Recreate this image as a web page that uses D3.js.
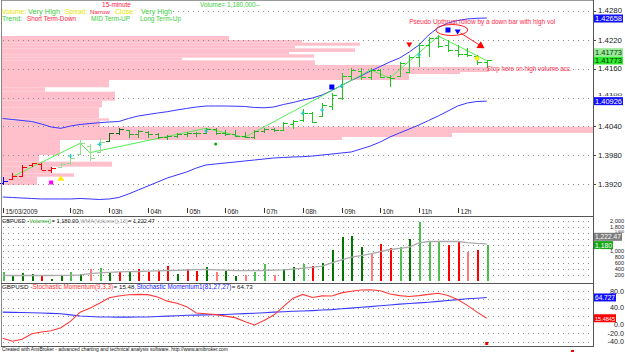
<!DOCTYPE html>
<html><head><meta charset="utf-8">
<script src="https://cdn.jsdelivr.net/npm/d3@7"></script>
<style>body{margin:0;background:#fff}svg{display:block;font-family:"Liberation Sans Narrow","Liberation Sans",Arial,sans-serif}</style>
</head><body><svg id="c" width="625" height="352"></svg>
<script>
// ---------- DATA ----------
const timeLabels = ["15/03/2009","02h","03h","04h","05h","06h","07h","08h","09h","10h","11h","12h"];
const timeTickIdx = [0,7,11,15,19,23,27,31,35,39,43,47];
const barOpen  = [1.39221,1.39304,1.39367,1.39596,1.39627,1.39492,1.39554,1.39638,1.39825,1.40000,1.39867,1.40096,1.40263,1.40325,1.40242,1.40289,1.40242,1.40180,1.40200,1.40242,1.40263,1.40263,1.40346,1.40263,1.40242,1.40200,1.40169,1.40304,1.40346,1.40325,1.40450,1.40533,1.40679,1.40617,1.40825,1.40992,1.41450,1.41554,1.41429,1.41575,1.41429,1.41450,1.41533,1.41846,1.42096,1.42242,1.42096,1.41992,1.41908,1.41867,1.41742];
const barHigh  = [1.39352,1.39435,1.39596,1.39644,1.39644,1.39548,1.39644,1.39783,1.40117,1.40033,1.40158,1.40269,1.40360,1.40325,1.40325,1.40300,1.40269,1.40221,1.40263,1.40289,1.40289,1.40360,1.40367,1.40325,1.40325,1.40289,1.40325,1.40373,1.40367,1.40498,1.40533,1.40756,1.40706,1.40894,1.41090,1.41506,1.41610,1.41610,1.41610,1.41590,1.41471,1.41748,1.41888,1.42131,1.42269,1.42304,1.42200,1.42096,1.42027,1.41888,1.41783];
const barLow   = [1.39179,1.39283,1.39352,1.39561,1.39492,1.39435,1.39527,1.39596,1.39804,1.39686,1.39846,1.40081,1.40221,1.40158,1.40158,1.40158,1.40131,1.40117,1.40158,1.40185,1.40185,1.40256,1.40221,1.40200,1.40180,1.40152,1.40131,1.40256,1.40290,1.40325,1.40340,1.40498,1.40465,1.40590,1.40742,1.40950,1.41367,1.41367,1.41367,1.41402,1.41227,1.41435,1.41506,1.41631,1.41852,1.42027,1.41956,1.41852,1.41852,1.41679,1.41610];
const barClose = [1.39263,1.39367,1.39554,1.39631,1.39492,1.39533,1.39617,1.39742,1.40054,1.39742,1.40075,1.40263,1.40346,1.40242,1.40304,1.40242,1.40180,1.40200,1.40242,1.40263,1.40263,1.40346,1.40263,1.40242,1.40200,1.40169,1.40304,1.40346,1.40325,1.40471,1.40513,1.40679,1.40492,1.40846,1.41054,1.41450,1.41575,1.41429,1.41575,1.41429,1.41408,1.41721,1.41846,1.42096,1.42242,1.42075,1.41992,1.41908,1.41888,1.41742,1.41773];
const barTone  = "brrrrrllllldd" + "gggggggggggggggg" + "GGGGGGGGGGGGGGGGGGGGGG";
const upperBand = [1.40565,1.40544,1.40523,1.40502,1.40450,1.40388,1.40360,1.40408,1.40440,1.40460,1.40477,1.40492,1.40502,1.40565,1.40617,1.40648,1.40679,1.40706,1.40742,1.40773,1.40804,1.40825,1.40825,1.40825,1.40821,1.40815,1.40794,1.40788,1.40804,1.40856,1.40898,1.40950,1.40992,1.41054,1.41148,1.41252,1.41356,1.41450,1.41554,1.41648,1.41742,1.41825,1.41950,1.42096,1.42304,1.42460,1.42554,1.42606,1.42638,1.42652,1.42658];
const lowerBand = [1.38929,1.38919,1.38908,1.38898,1.38888,1.38888,1.38888,1.38888,1.38898,1.38888,1.38877,1.38888,1.38919,1.38992,1.39075,1.39158,1.39242,1.39325,1.39388,1.39450,1.39533,1.39596,1.39617,1.39638,1.39658,1.39679,1.39700,1.39721,1.39742,1.39752,1.39763,1.39769,1.39783,1.39804,1.39825,1.39846,1.39867,1.39929,1.39992,1.40075,1.40179,1.40263,1.40346,1.40429,1.40523,1.40617,1.40721,1.40825,1.40888,1.40919,1.40926];
const zigIdx   = [1,8,9,21,25,38,40,45,50];
const zigPrice = [1.39352,1.40048,1.39852,1.40360,1.40173,1.41575,1.41408,1.42283,1.41773];
// volume at price profile (price band top / bottom, volume)
const vapTop = [1.42283,1.42200,1.42144,1.42081,1.42026,1.41950,1.41901,1.41833,1.41776,1.41679,1.41638,1.41533,1.41492,1.41367,1.41215,1.41124,1.40936,1.40797,1.40568,1.40519,1.40394,1.40263,1.40179,1.40117,1.40013,1.39804,1.39665,1.39561,1.39422,1.39352];
const vapBot = [1.42200,1.42144,1.42081,1.42026,1.41950,1.41901,1.41833,1.41776,1.41679,1.41638,1.41533,1.41492,1.41367,1.41215,1.41124,1.40936,1.40797,1.40568,1.40519,1.40394,1.40263,1.40179,1.40117,1.40013,1.39804,1.39665,1.39561,1.39422,1.39352,1.39179];
const vapVol = [2270,3000,3580,2930,3530,2870,3120,1800,3130,4000,4870,4580,4070,1070,430,1130,1000,970,1070,980,5910,4500,3400,580,580,370,1100,500,720,350];
const volume = [300,167,256,233,167,44,167,300,222,400,422,244,267,300,367,289,333,478,222,367,333,456,300,333,156,200,300,556,167,400,444,556,500,578,1022,1444,1489,1133,878,1222,1089,1111,1367,1940,1278,1300,1167,1300,944,1011,1180];
const volTone = "Gggg" + "rggGgpGgrgrrrrgrrgpggpGGpggGrgggggprrGgGGGrrprG";
const volWMA = [167,167,167,167,167,167,170,175,190,230,256,270,285,295,300,310,320,333,340,350,360,367,355,345,333,330,330,333,345,356,380,411,440,478,589,690,778,830,889,960,1033,1070,1111,1256,1300,1300,1300,1300,1260,1235,1222.47];
const stochFast = [-32,-39,-34,-21,-17,-14,-7,8,30,39,51,64,68,71,72,71.5,66,56,51,43,28,26,24,20.5,17,8,-0.5,10,23,43,63,72,64.5,68.5,68,75.5,79.5,82.5,83,80.5,73,69,67,69,72,74.5,69.5,60,46,30,15.48];
const stochSlow = [30,29.5,29,28.5,28,27,26,23.5,21,19.5,18.5,18.3,18.2,18.2,18.3,18.5,19.5,20.5,21.5,22.5,23,23.5,24,24.5,25.5,26.5,27.5,28.5,30,31,32,32.5,33.5,35,36,38,39.5,41.5,43,45,47,49,50.5,52,53.5,55.5,57.5,59.5,61.5,63,64.73];
const priceTicks = [1.4280,1.4220,1.4160,1.4100,1.4040,1.3980,1.3920];
const priceLabels = [1.4220,1.4160,1.4040,1.3980,1.3920];
const volTicks = [2000,1800,1600,1400,1200,1000,800,600,400,200];
const volLabels = [2000,1800,1000,800,600,400,200];
const stochTicks = [80,60,40,20,0,-20,-40];
const stochLabels = [80,40,0,-20,-40];
const cyanIdx = [7,10,21,31,33,35,43];
const cyanPrice = [1.39783,1.40027,1.40304,1.40673,1.40742,1.41242,1.41888];

// ---------- SCALES ----------
const svg = d3.select("#c");
svg.append("rect").attr("width",625).attr("height",352).attr("fill","#fff");
const x = d3.scaleLinear().domain([0,50]).range([2.7,486.7]);
const y = d3.scaleLinear().domain([1.3920,1.4280]).range([184,11.2]);
const yv = d3.scaleLinear().domain([0,2000]).range([280.5,220.5]);
const ys = d3.scaleLinear().domain([-40,80]).range([341.7,291]);
const vx = d3.scaleLinear().domain([0,5910]).range([2,593]);
const AXR = 593;
function txt(xp,yp,s,c,len,sz,parent){
  sz = sz||7;
  const t=(parent||svg).append("text").attr("x",xp).attr("y",yp).text(s).attr("font-size",sz).attr("fill",c);
  if(len){ const w=t.node().getComputedTextLength();
    if(w>len){ sz=sz*len/w; t.attr("font-size",sz); }
    t.attr("textLength",len).attr("lengthAdjust","spacingAndGlyphs"); }
  return t;
}
function multi(x0,yb,total,parts,sz){
  const tmp=parts.map(p=>svg.append("text").attr("font-size",sz).text(p[0]));
  const w=tmp.map(t=>t.node().getComputedTextLength()); tmp.forEach(t=>t.remove());
  const k=total/d3.sum(w); let xp=x0;
  parts.forEach((p,i)=>{ const L=w[i]*k; txt(xp,yb,p[0],p[1],L-0.4,sz); xp+=L; });
}

// ---------- MAIN PANE ----------
const g = svg.append("g");
g.selectAll("rect.vap").data(vapVol).join("rect")
  .attr("x",2).attr("y",(d,i)=>y(vapTop[i])).attr("width",d=>vx(d)-2)
  .attr("height",(d,i)=>y(vapBot[i])-y(vapTop[i])).attr("fill","#ffc0cb");

function hgrid(sel, vals, sc){
  sel.selectAll(null).data(vals).join("line")
   .attr("x1",3).attr("x2",AXR).attr("y1",d=>Math.round(sc(d))+0.5).attr("y2",d=>Math.round(sc(d))+0.5)
   .attr("stroke","#8a8a8a").attr("stroke-dasharray","1,4");
}
hgrid(g, priceTicks, y);
svg.append("rect").attr("x",2).attr("y",7.5).attr("width",170).attr("height",15).attr("fill","#fff");

const lineP = (arr)=>d3.line().x((d,i)=>x(i)).y(d=>y(d))(arr);
g.append("path").attr("d",lineP(upperBand)).attr("fill","none").attr("stroke","#3636ff").attr("stroke-width",1);
g.append("path").attr("d",lineP(lowerBand)).attr("fill","none").attr("stroke","#3636ff").attr("stroke-width",1);
g.append("path").attr("d",d3.line().x(d=>x(d)).y((d,k)=>y(zigPrice[k]))(zigIdx))
  .attr("fill","none").attr("stroke","#55ee55").attr("stroke-width",1);

const toneCol = {b:"#0000ff",r:"#ff0000",l:"#8ee08e",d:"#0f6a0f",g:"#2fa82f",G:"#1ec81e"};
const bars = g.append("g").attr("shape-rendering","crispEdges");
barOpen.forEach((o,i)=>{
  const cx = Math.round(x(i))+0.5, c = toneCol[barTone[i]];
  bars.append("line").attr("x1",cx).attr("x2",cx).attr("y1",y(barHigh[i])).attr("y2",y(barLow[i])).attr("stroke",c);
  bars.append("line").attr("x1",cx-4).attr("x2",cx).attr("y1",Math.round(y(o))+0.5).attr("y2",Math.round(y(o))+0.5).attr("stroke",c);
  bars.append("line").attr("x1",cx).attr("x2",cx+4).attr("y1",Math.round(y(barClose[i]))+0.5).attr("y2",Math.round(y(barClose[i]))+0.5).attr("stroke",c);
});

// markers
cyanIdx.forEach((k,j)=>{
  const cx=x(k), cy=y(cyanPrice[j]);
  g.append("path").attr("d",`M${cx-2},${cy}H${cx+2}M${cx},${cy-2}V${cy+2}`).attr("stroke","#22cccc").attr("stroke-width",1.2);
});
g.append("circle").attr("cx",x(49)).attr("cy",y(1.41819)).attr("r",2).attr("fill","#ffff00").attr("stroke","#e0c000").attr("stroke-width",0.5);
const tri=(cx,cy,s,dn)=>dn?`M${cx-s},${cy-s*0.8}L${cx+s},${cy-s*0.8}L${cx},${cy+s*0.8}Z`:`M${cx-s},${cy+s*0.8}L${cx+s},${cy+s*0.8}L${cx},${cy-s*0.8}Z`;
g.append("path").attr("d",tri(x(42),y(1.42096),3,true)).attr("fill","#ff0000");
g.append("path").attr("d",tri(x(47),y(1.42367),3,true)).attr("fill","#0000ff");
g.append("path").attr("d",tri(x(6),y(1.39325),3.5,false)).attr("fill","#ffee00");
g.append("rect").attr("x",x(34)-2.5).attr("y",y(1.41221)-2.5).attr("width",5).attr("height",5).attr("fill","#0000ff");
g.append("rect").attr("x",x(46)-2.5).attr("y",y(1.42408)-2.5).attr("width",5).attr("height",5).attr("fill","#0000ff");
g.append("rect").attr("x",x(5)-2).attr("y",y(1.39231)-2).attr("width",4).attr("height",4).attr("fill","#ff00ff");
g.append("circle").attr("cx",x(22)).attr("cy",y(1.40033)).attr("r",1.5).attr("fill","#00aa00");

// annotations
g.append("ellipse").attr("cx",x(46.4)).attr("cy",y(1.42408)).attr("rx",16).attr("ry",5.5).attr("fill","none").attr("stroke","#ff2020");
const a0=[x(47.3),y(1.42346)], a1=[x(49.6),y(1.42050)];
g.append("line").attr("x1",a0[0]).attr("y1",a0[1]).attr("x2",a1[0]).attr("y2",a1[1]).attr("stroke","#ff2020");
{ const ang=Math.atan2(a1[1]-a0[1],a1[0]-a0[0]), L=7, Wd=4;
  const p=[a1[0]+Math.cos(ang)*2,a1[1]+Math.sin(ang)*2];
  const b=[p[0]-Math.cos(ang)*L,p[1]-Math.sin(ang)*L];
  g.append("path").attr("d",`M${p[0]},${p[1]}L${b[0]-Math.sin(ang)*Wd},${b[1]+Math.cos(ang)*Wd}L${b[0]+Math.sin(ang)*Wd},${b[1]-Math.cos(ang)*Wd}Z`).attr("fill","#ff0000"); }
txt(x(42),y(1.42533),"Pseudo Upthrust follow by a down bar with high vol","#ff2a4a",146,7.2);
txt(x(50),y(1.41544),"Stop here on high volume acc.","#ff2a4a",85,7.2);

// legend
const YEL="#e4e400", GRN="#3ccc3c", RED="#ff2244";
txt(102,7.3,"15-minute",RED,29,8);
txt(200,7.3,"Volume= 1,180,000--",GRN,60,7.5);
txt(2,14,"Volume:",YEL,24,7.5); txt(28,14,"Very High",GRN,32,7.5);
txt(65,14,"Spread:",YEL,22,7.5); txt(90,14,"Narrow",RED,20,7.5);
txt(115,14,"Close:",YEL,20,7.5); txt(141,14,"Very High",GRN,31,7.5);
txt(2,21,"Trend:",GRN,20,7.5); txt(27,21,"Short Term-Down",RED,49,7.5);
txt(91,21,"MID Term-UP",GRN,39,7.5); txt(140,21,"Long Term-Up",GRN,41,7.5);

// time axis
timeTickIdx.forEach((k,j)=>{
  const tx=Math.round(x(k))+0.5;
  svg.append("line").attr("x1",tx).attr("x2",tx).attr("y1",208).attr("y2",213).attr("stroke","#333");
  if(j==0) txt(tx+2,213.5,timeLabels[j],"#222",32,7.2);
  else txt(tx+2,213.5,timeLabels[j],"#222",null,6.6);
});

// price axis
priceTicks.forEach(v=>{
  svg.append("line").attr("x1",AXR).attr("x2",AXR+3).attr("y1",Math.round(y(v))+0.5).attr("y2",Math.round(y(v))+0.5).attr("stroke","#444");
});
txt(598,y(1.4280)+1.6,"1.4280","#222",24,7.2);
priceLabels.forEach(v=>{ txt(598,y(v)+2.6,v.toFixed(4),"#222",24,7.5); });
txt(598,y(1.4100)-1.2,"1.4100","#222",24,4.2);
function box(yc,label,bg,fg,w,x0){ svg.append("rect").attr("x",x0||594).attr("y",yc-4).attr("width",w).attr("height",8).attr("fill",bg);
  txt((x0||594)+1,yc+2.6,label,fg,w-2,7.5); }
box(y(upperBand[50])+0.5,"1.42658","#1010ff","#fff",29);
box(y(barClose[50])-8.3,"1.41773","#9be89b","#004000",29);
box(y(barClose[50]),"1.41773","#2ee82e","#003000",29);
box(y(lowerBand[50]),"1.40926","#1010ff","#fff",29);

// ---------- VOLUME PANE ----------
const gv = svg.append("g");
hgrid(gv, volTicks, yv);
const volCol = {G:"#4cc04c",g:"#007800",r:"#ff0000",p:"#ff7a7a"};
gv.selectAll("rect.v").data(volume).join("rect").attr("shape-rendering","crispEdges")
  .attr("x",(d,i)=>Math.round(x(i))-0.5).attr("width",2).attr("y",d=>yv(d)).attr("height",d=>yv(0)-yv(d))
  .attr("fill",(d,i)=>volCol[volTone[i]]);
gv.append("path").attr("d",d3.line().x((d,i)=>x(i)).y(d=>yv(d))(volWMA)).attr("fill","none").attr("stroke","#ababab").attr("stroke-width",1.3);
volLabels.forEach(v=>{ txt(624,yv(v)+2.2,d3.format(",")(v),"#222",null,5.6).attr("text-anchor","end"); });
txt(624,yv(1600)+0.4,"1,600","#222",null,3.6).attr("text-anchor","end");
box(yv(volume[50])-8.3,"1,222.47","#7c7c7c","#fff",28);
box(yv(volume[50]),"1,180","#16a816","#fff",19);
multi(2,222.8,153,[["GBPUSD - ","#111"],["Volume()","#22aa22"],[" = 1,180.00, ","#111"],["WMA(Volume(),13)","#9a9a9a"],[" = 1,222.47","#111"]],7.5);

// ---------- STOCH PANE ----------
const gs = svg.append("g");
hgrid(gs, stochTicks, ys);
gs.append("path").attr("d",d3.line().x((d,i)=>x(i)).y(d=>ys(d))(stochSlow)).attr("fill","none").attr("stroke","#3a3aff").attr("stroke-width",1.1);
gs.append("path").attr("d",d3.line().x((d,i)=>x(i)).y(d=>ys(d))(stochFast)).attr("fill","none").attr("stroke","#ff3a3a").attr("stroke-width",1.1);
stochLabels.forEach(v=>{ txt(624,ys(v)+2.5,v.toFixed(1),"#222",null,7.2).attr("text-anchor","end"); });
box(ys(stochSlow[50]),"64.727","#1010ff","#fff",22);
box(ys(stochFast[50]),"15.4845","#ff0000","#fff",22);
multi(2,288.8,251,[["GBPUSD - ","#111"],["Stochastic Momentum(9,3,3)","#ff3030"],[" = 15.48, ","#111"],["Stochastic Momentum1(81,27,27)","#2020ff"],[" = 64.73","#111"]],7.5);
svg.append("rect").attr("x",x(50)-1.5).attr("y",342).attr("width",3).attr("height",3).attr("fill","#ff0000");
svg.append("rect").attr("x",571).attr("y",350).attr("width",3).attr("height",2).attr("fill","#ff0000");

// footer
txt(2,351,"Created with AmiBroker - advanced charting and technical analysis software. http://www.amibroker.com","#111",226,6.8);

// ---------- FRAMES ----------
const fr = svg.append("g").attr("stroke","#555").attr("shape-rendering","crispEdges");
fr.append("line").attr("x1",1).attr("x2",AXR).attr("y1",0.5).attr("y2",0.5).attr("stroke","#999");
fr.append("line").attr("x1",1.5).attr("x2",1.5).attr("y1",0).attr("y2",347).attr("stroke","#888");
fr.append("line").attr("x1",AXR+0.5).attr("x2",AXR+0.5).attr("y1",0).attr("y2",347);
[216.5,283.5,346.5].forEach(v=>fr.append("line").attr("x1",1).attr("x2",AXR).attr("y1",v).attr("y2",v));
</script></body></html>
